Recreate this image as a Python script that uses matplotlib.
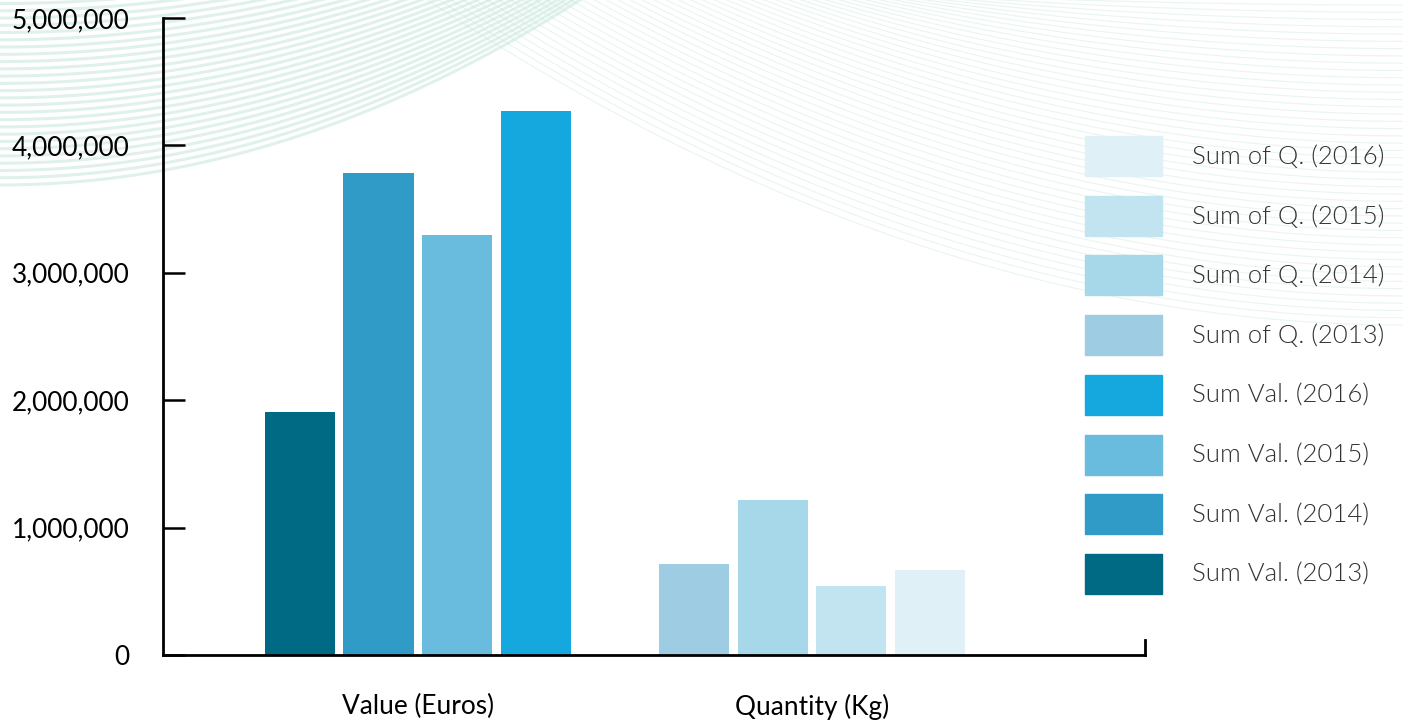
import numpy as np
import matplotlib.pyplot as plt
from matplotlib.patches import Rectangle
from matplotlib.ticker import FuncFormatter

plt.rcParams['font.family'] = ['Lato', 'DejaVu Sans']

groups = ["Value (Euros)", "Quantity (Kg)"]
years = ["2013", "2014", "2015", "2016"]
sum_val = [1910000, 3780000, 3300000, 4270000]
sum_qty = [714000, 1217000, 542000, 667000]
val_colors = ["#006984", "#2f9bc6", "#69bcdd", "#14a8df"]
qty_colors = ["#9ecde3", "#a6d8ea", "#c2e4f0", "#dff0f7"]

W, H = 1403, 725
fig = plt.figure(figsize=(W / 100, H / 100), dpi=100)

# faint wavy line pattern behind the chart (pixel coordinates)
bg = fig.add_axes([0, 0, 1, 1], zorder=-1)
bg.set_xlim(0, W)
bg.set_ylim(H, 0)
bg.axis("off")

x = np.linspace(0, 650, 300)
top = -40 - 0.0003 * x ** 2
bot = 185 - 0.00055 * x ** 2
for t in np.linspace(0, 1, 32):
    bg.plot(x, top + (bot - top) * t, color="#d3ece5", lw=2.2, alpha=0.7)

for t in np.linspace(0, 1, 45):
    xs = 420 + 520 * t
    ye = 320 * (1 - t) + 10
    xx = np.linspace(xs, W, 200)
    u = (xx - xs) / (W - xs)
    yy = ye * (1 - (1 - u) ** 2) - 5
    bg.plot(xx, yy, color="#c6e6dd", lw=0.8, alpha=0.4)

# legend: value series first from the bottom, quantity series above
labels = [f"Sum of Q. ({y})" for y in years[::-1]] + \
         [f"Sum Val. ({y})" for y in years[::-1]]
colors = qty_colors[::-1] + val_colors[::-1]
for i, (lab, c) in enumerate(zip(labels, colors)):
    y0 = 136 + 59.7 * i
    bg.add_patch(Rectangle((1085, y0), 77, 40, color=c, zorder=3))
    bg.text(1192, y0 + 21, lab, fontsize=18.5, color="#333333",
            fontweight=300, va="center", ha="left", zorder=3)

ax = fig.add_axes([163 / W, 1 - 655 / H, (1145 - 163) / W, (655 - 18) / H])
ax.set_facecolor("none")

step = 0.2
width = 0.178
offsets = (np.arange(4) - 1.5) * step
for i in range(4):
    ax.bar(0 + offsets[i], sum_val[i], width, color=val_colors[i])
    ax.bar(1 + offsets[i], sum_qty[i], width, color=qty_colors[i])

ax.set_xlim(-0.647, 1.845)
ax.set_ylim(0, 5000000)
ax.set_yticks(np.arange(0, 5000001, 1000000))
ax.yaxis.set_major_formatter(FuncFormatter(lambda v, p: f"{int(v):,}"))
ax.set_xticks([0, 1])
ax.set_xticklabels(groups)

ax.spines["top"].set_visible(False)
ax.spines["right"].set_bounds(0, 120000)
for s in ["left", "bottom", "right"]:
    ax.spines[s].set_linewidth(2.0)
    ax.spines[s].set_color("#000000")

ax.tick_params(axis="y", direction="in", length=16, width=1.8, pad=24,
               labelsize=18.9, labelcolor="#000000", color="#000000")
ax.tick_params(axis="x", length=0, pad=28, labelsize=18.9, labelcolor="#000000")

fig.savefig("out.png", dpi=100)
